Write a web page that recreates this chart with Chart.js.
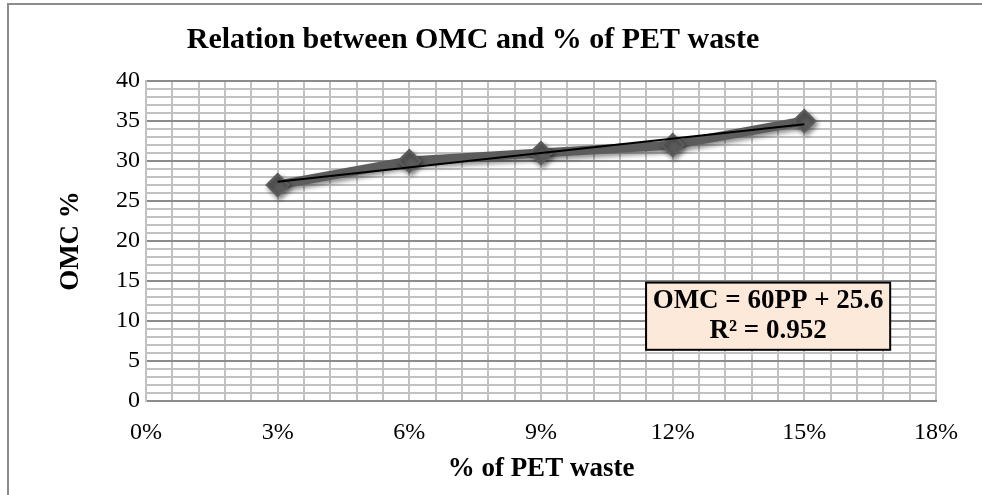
<!DOCTYPE html>
<html>
<head>
<meta charset="utf-8">
<script src="https://cdn.jsdelivr.net/npm/chart.js@4"></script>
<style>
    html, body { margin: 0; padding: 0; background: #fff; }
    #wrap { width: 982px; height: 495px; position: relative; }
</style>
</head>
<body>
<div id="wrap"><canvas id="omc-chart" width="982" height="495"></canvas></div>
<script>
// Data
const petWaste = [3, 6, 9, 12, 15];      // % of PET waste
const omcValues = [27, 30, 31, 32, 35];  // OMC %
const xTickMarks = [0, 3, 6, 9, 12, 15, 18];
const yTickMarks = [0, 5, 10, 15, 20, 25, 30, 35, 40];
const equationLines = ['OMC = 60PP + 25.6', 'R\u00B2 = 0.952'];

const serif = "'Liberation Serif', 'Times New Roman', serif";

// Least squares trendline (as Excel does)
function linearFit(xs, ys) {
    const n = xs.length;
    const mx = xs.reduce((a, b) => a + b, 0) / n;
    const my = ys.reduce((a, b) => a + b, 0) / n;
    let sxy = 0, sxx = 0;
    xs.forEach((x, i) => { sxy += (x - mx) * (ys[i] - my); sxx += (x - mx) * (x - mx); });
    const slope = sxy / sxx;
    return { slope, intercept: my - slope * mx };
}
const fit = linearFit(petWaste, omcValues);
const xMin = Math.min(...petWaste), xMax = Math.max(...petWaste);
const trendPoints = [xMin, xMax].map(x => ({ x, y: fit.intercept + fit.slope * x }));

const isMark = (v, marks) => marks.some(m => Math.abs(m - v) < 1e-6);

// Outer frame (top + left only are visible)
const framePlugin = {
    id: 'frame',
    beforeDraw(chart) {
        const ctx = chart.ctx;
        ctx.save();
        ctx.fillStyle = '#fff';
        ctx.fillRect(0, 0, chart.width, chart.height);
        ctx.strokeStyle = '#8c8c8c';
        ctx.lineWidth = 2;
        ctx.beginPath();
        ctx.moveTo(8, chart.height);
        ctx.lineTo(8, 4);
        ctx.lineTo(chart.width, 4);
        ctx.stroke();
        ctx.restore();
    }
};

// Drop shadow under the data series
const shadowPlugin = {
    id: 'seriesShadow',
    beforeDatasetDraw(chart, args) {
        if (args.index !== 1) return;
        const ctx = chart.ctx;
        ctx.save();
        ctx.shadowColor = 'rgba(0,0,0,0.45)';
        ctx.shadowBlur = 5;
        ctx.shadowOffsetX = 2;
        ctx.shadowOffsetY = 3;
    },
    afterDatasetDraw(chart, args) {
        if (args.index !== 1) return;
        chart.ctx.restore();
    }
};

// Equation / R² box
const equationPlugin = {
    id: 'equationBox',
    afterDatasetsDraw(chart) {
        const { ctx, chartArea: a } = chart;
        const w = a.right - a.left, h = a.bottom - a.top;
        const left = a.left + w * 0.633, right = a.left + w * 0.942;
        const top = a.top + h * 0.63, bottom = a.top + h * 0.84;
        ctx.save();
        ctx.fillStyle = '#fde9d9';
        ctx.fillRect(left, top, right - left, bottom - top);
        ctx.strokeStyle = '#000';
        ctx.lineWidth = 2;
        ctx.strokeRect(left, top, right - left, bottom - top);
        ctx.fillStyle = '#000';
        ctx.font = `bold 27px ${serif}`;
        ctx.textAlign = 'center';
        ctx.textBaseline = 'middle';
        const cx = (left + right) / 2, cy = (top + bottom) / 2;
        ctx.fillText(equationLines[0], cx, cy - 15);
        ctx.fillText(equationLines[1], cx, cy + 15);
        ctx.restore();
    }
};

new Chart(document.getElementById('omc-chart').getContext('2d'), {
    type: 'line',
    data: {
        datasets: [
            {
                label: 'Linear trend',
                data: trendPoints,
                borderColor: '#000',
                borderWidth: 2,
                pointRadius: 0,
                fill: false,
                tension: 0,
                order: 0
            },
            {
                label: 'OMC %',
                data: petWaste.map((x, i) => ({ x, y: omcValues[i] })),
                borderColor: '#5c5c5c',
                backgroundColor: '#5c5c5c',
                borderWidth: 9,
                pointStyle: 'rectRot',
                pointRadius: 11,
                pointBorderWidth: 2,
                pointBackgroundColor: '#5c5c5c',
                pointBorderColor: '#5c5c5c',
                fill: false,
                tension: 0,
                order: 1
            }
        ]
    },
    options: {
        responsive: false,
        animation: false,
        layout: { padding: { left: 10, right: 46, top: 0, bottom: 0 } },
        plugins: {
            legend: { display: false },
            tooltip: { enabled: false },
            title: {
                display: true,
                text: 'Relation between OMC and % of PET waste',
                color: '#000',
                font: { family: serif, size: 30, weight: 'bold' },
                padding: { top: 22, bottom: 23 }
            }
        },
        scales: {
            x: {
                type: 'linear',
                min: 0,
                max: 18,
                afterFit: (scale) => { scale.height = 94; },
                ticks: {
                    stepSize: 0.6,
                    autoSkip: false,
                    maxRotation: 0,
                    padding: 17,
                    color: '#000',
                    font: { family: serif, size: 24 },
                    callback: (v) => isMark(v, xTickMarks) ? Math.round(v) + '%' : ''
                },
                grid: { color: '#c2c2c2', lineWidth: 2, drawTicks: false },
                border: { color: '#8c8c8c', width: 2 },
                title: {
                    display: true,
                    text: '% of PET waste',
                    color: '#000',
                    font: { family: serif, size: 27, weight: 'bold' },
                    padding: { top: 0, bottom: 10 }
                }
            },
            y: {
                min: 0,
                max: 40,
                afterFit: (scale) => { scale.width = 136; },
                ticks: {
                    stepSize: 1,
                    autoSkip: false,
                    padding: 6,
                    color: '#000',
                    font: { family: serif, size: 24 },
                    callback: (v) => isMark(v, yTickMarks) ? v : ''
                },
                grid: {
                    drawTicks: false,
                    lineWidth: 2,
                    color: (c) => (c.tick && isMark(c.tick.value, yTickMarks)) ? '#8c8c8c' : '#c2c2c2'
                },
                border: { color: '#c2c2c2', width: 2 },
                title: {
                    display: true,
                    text: 'OMC %',
                    color: '#000',
                    font: { family: serif, size: 27, weight: 'bold' },
                    padding: { top: 45, bottom: 0 }
                }
            }
        }
    },
    plugins: [framePlugin, shadowPlugin, equationPlugin]
});
</script>
</body>
</html>
